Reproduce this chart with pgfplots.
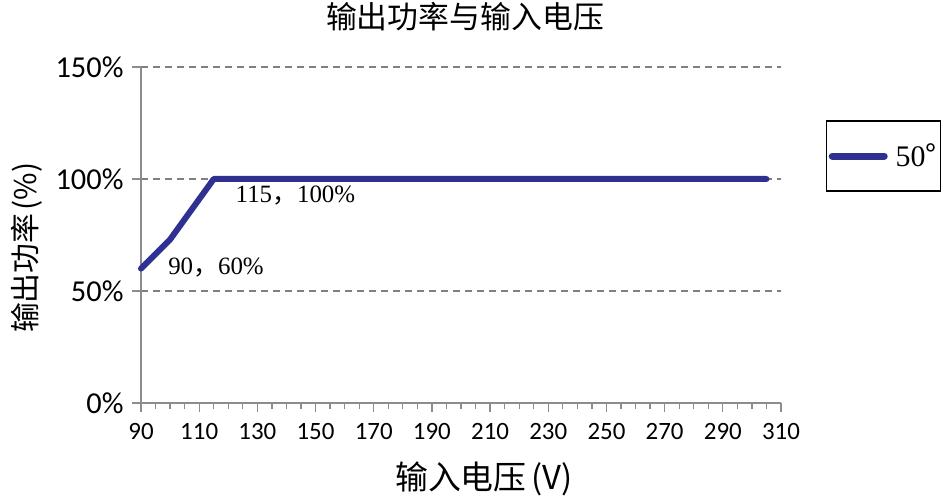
\documentclass[border=0pt]{standalone}
\usepackage{fontspec}
\usepackage{pgfplots}
\pgfplotsset{compat=1.18}
\setmainfont{Liberation Serif}
\newfontfamily\cjk{Noto Sans CJK SC}
\newfontfamily\carlito{Carlito}
\definecolor{lineblue}{RGB}{46,49,146}
\definecolor{axgray}{RGB}{140,140,140}
\definecolor{gridgray}{RGB}{128,128,128}

\begin{document}
\begin{tikzpicture}
\useasboundingbox (-141bp,-98bp) rectangle (809bp,403bp);
\begin{axis}[
    scale only axis,
    width=640bp, height=336bp,
    at={(0,0)}, anchor=south west,
    xmin=90, xmax=310,
    ymin=0, ymax=150,
    axis x line*=bottom,
    axis y line*=left,
    axis line style={axgray, line width=1.5bp},
    xtick={90,110,...,310},
    minor x tick num=3,
    ytick={0,50,100,150},
    yticklabels={0\%,50\%,100\%,150\%},
    tick align=outside,
    major tick length=9bp,
    minor tick length=6bp,
    tick style={axgray, line width=1.2bp},
    ymajorgrids,
    major grid style={gridgray, dash pattern=on 7bp off 5bp, line width=1.3bp},
    xticklabel style={font=\carlito\fontsize{25}{28}\selectfont, yshift=-8bp},
    yticklabel style={font=\carlito\fontsize{30.5}{33}\selectfont, xshift=-5bp},
    /pgf/number format/assume math mode=true,
    title={\cjk 输出功率与输入电压},
    title style={font=\fontsize{31}{34}\selectfont, at={(0.5,1)}, anchor=center, yshift=44bp, xshift=4bp},
    xlabel={\cjk 输入电压\hspace{5bp}(V)},
    xlabel style={font=\fontsize{33}{36}\selectfont, at={(axis description cs:0.536,0)}, anchor=center, yshift=-76bp},
    ylabel={\cjk 输出功率\hspace{3bp}(\%)},
    ylabel style={font=\fontsize{30}{33}\selectfont, at={(axis description cs:-0.178,0.462)}, anchor=center},
    legend style={at={(1.0703,0.842)}, anchor=north west, draw=black, line width=1.5bp,
        inner xsep=2bp, inner ysep=21bp, font=\fontsize{30}{32}\selectfont},
    legend cell align=left,
    legend image code/.code={\draw[#1, line width=7bp, line cap=round] (0bp,0bp) -- (52bp,0bp);},
    clip=false,
]
\addplot[lineblue, line width=6bp, line join=round, line cap=round] coordinates {
    (90,60) (100,73) (115,100) (150,100) (200,100) (250,100) (305,100)
};
\addlegendentry{\hspace{6bp}50{\cjk °}\hspace{30bp}}
\node[anchor=north west, inner sep=0pt, font=\fontsize{25}{27}\selectfont] at (axis cs:122.5,97) {115{\cjk ，}100\%};
\node[anchor=north west, inner sep=0pt, font=\fontsize{25}{27}\selectfont] at (axis cs:99.3,65) {90{\cjk ，}60\%};
\end{axis}
\end{tikzpicture}
\end{document}
